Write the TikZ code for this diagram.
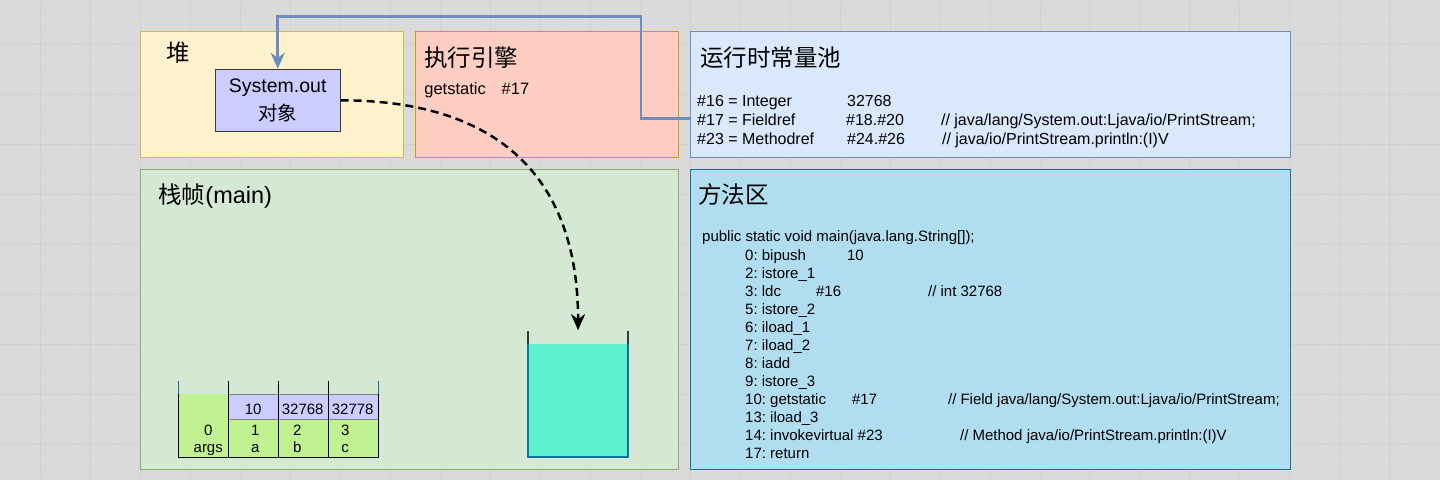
\documentclass[tikz,border=0pt]{standalone}
\usepackage{fontspec}
\setmainfont{Liberation Sans}
\newfontfamily\cjk{Noto Sans CJK SC}
\usetikzlibrary{arrows.meta}
\frenchspacing
\definecolor{grid_bg}{RGB}{218, 218, 218}
\definecolor{grid_minor}{RGB}{216, 216, 216}
\definecolor{grid_major}{RGB}{209, 209, 209}
\definecolor{heap_fill}{RGB}{255, 242, 204}
\definecolor{heap_line}{RGB}{214, 182, 86}
\definecolor{eng_fill}{RGB}{255, 206, 194}
\definecolor{eng_line}{RGB}{215, 155, 0}
\definecolor{pool_fill}{RGB}{218, 232, 252}
\definecolor{pool_line}{RGB}{108, 142, 191}
\definecolor{frame_fill}{RGB}{213, 232, 212}
\definecolor{frame_line}{RGB}{130, 179, 102}
\definecolor{meth_fill}{RGB}{177, 221, 240}
\definecolor{meth_line}{RGB}{16, 115, 158}
\definecolor{obj_fill}{RGB}{204, 204, 255}
\definecolor{obj_line}{RGB}{54, 57, 61}
\definecolor{slot_fill}{RGB}{192, 242, 146}
\definecolor{bucket_fill}{RGB}{94, 240, 208}
\tikzstyle{area}=[rectangle,anchor=north west,inner sep=0pt,line width=1pt]
\tikzstyle{obj}=[rectangle,fill=obj_fill,draw=obj_line,line width=1pt,
  minimum width=125pt,minimum height=62pt,inner sep=0pt,align=center,
  font=\fontsize{19.5}{28}\selectfont]
\tikzstyle{title}=[anchor=base west,inner sep=0pt,font=\fontsize{23.5}{28}\selectfont]
\tikzstyle{pool_txt}=[anchor=base west,inner sep=0pt,font=\fontsize{16}{19}\selectfont]
\tikzstyle{code_txt}=[anchor=base west,inner sep=0pt,font=\fontsize{15}{18}\selectfont]
\tikzstyle{slot_txt}=[anchor=base,inner sep=0pt,font=\fontsize{15}{18}\selectfont]
\tikzstyle{ref_line}=[draw=pool_line,line width=2.8pt,
  -{Stealth[length=16pt,width=14pt,inset=5pt]}]
\tikzstyle{ref_dash}=[draw=black,line width=2.5pt,dash pattern=on 8pt off 5pt,
  -{Stealth[length=16pt,width=14pt,inset=5pt]}]

\begin{document}
\begin{tikzpicture}[x=1pt,y=-1pt]
    % background grid
    \fill[grid_bg] (0,0) rectangle (1440,480);
    \foreach \gx in {0,10,...,1440} \draw[grid_minor,line width=0.5pt] (\gx,0) -- (\gx,480);
    \foreach \gy in {4,14,...,474} \draw[grid_minor,line width=0.5pt] (0,\gy) -- (1440,\gy);
    \foreach \gx in {40,90,...,1390} \draw[grid_major,line width=0.7pt] (\gx,0) -- (\gx,480);
    \foreach \gy in {44,94,...,444} \draw[grid_major,line width=0.7pt] (0,\gy) -- (1440,\gy);
    \useasboundingbox (0,0) rectangle (1440,480);

    % areas
    \node [style=area,fill=heap_fill,draw=heap_line,minimum width=263pt,minimum height=126pt] (heap) at (140,31) {};
    \node [style=area,fill=eng_fill,draw=eng_line,minimum width=263pt,minimum height=126pt] (engine) at (415,31) {};
    \node [style=area,fill=pool_fill,draw=pool_line,minimum width=600pt,minimum height=126pt] (pool) at (690,31) {};
    \node [style=area,fill=frame_fill,draw=frame_line,minimum width=538pt,minimum height=300pt] (frame) at (140,169) {};
    \node [style=area,fill=meth_fill,draw=meth_line,minimum width=600pt,minimum height=300pt] (method) at (690,169) {};

    \node [style=title] (heap_t) at (166,61) {\cjk 堆};
    \node [style=title] (engine_t) at (424,66) {\cjk 执行引擎};
    \node [style=title] (pool_t) at (700,66) {\cjk 运行时常量池};
    \node [style=title] (frame_t) at (158,203) {{\cjk 栈帧}(main)};
    \node [style=title] (method_t) at (698,203) {\cjk 方法区};

    \node [style=obj] (sysout) at (277.5,100) {System.out\\{\cjk 对象}};
    \node [style=pool_txt,font=\fontsize{16.5}{19}\selectfont] (instr) at (424,94) {getstatic\hspace{16pt}\#17};

    % constant pool
    \node [style=pool_txt] (c16) at (697,106) {\#16 = Integer};
    \node [style=pool_txt] (c16v) at (847,106) {32768};
    \node [style=pool_txt] (c17) at (697,125.5) {\#17 = Fieldref};
    \node [style=pool_txt] (c17v) at (846,125.5) {\#18.\#20};
    \node [style=pool_txt] (c17c) at (941,125.5) {// java/lang/System.out:Ljava/io/PrintStream;};
    \node [style=pool_txt] (c23) at (697,144.5) {\#23 = Methodref};
    \node [style=pool_txt] (c23v) at (847,144.5) {\#24.\#26};
    \node [style=pool_txt] (c23c) at (942,144.5) {// java/io/PrintStream.println:(I)V};

    % method area
    \node [style=code_txt] (sig) at (702,241.5) {public static void main(java.lang.String[]);};
    \node [style=code_txt] (m0) at (745,260) {0: bipush};
    \node [style=code_txt] (m0v) at (847,260) {10};
    \node [style=code_txt] (m2) at (745,278) {2: istore\_1};
    \node [style=code_txt] (m3) at (745,296) {3: ldc};
    \node [style=code_txt] (m3v) at (816,296) {\#16};
    \node [style=code_txt] (m3c) at (928,296) {// int 32768};
    \node [style=code_txt] (m5) at (745,314) {5: istore\_2};
    \node [style=code_txt] (m6) at (745,332) {6: iload\_1};
    \node [style=code_txt] (m7) at (745,350) {7: iload\_2};
    \node [style=code_txt] (m8) at (745,368) {8: iadd};
    \node [style=code_txt] (m9) at (745,386) {9: istore\_3};
    \node [style=code_txt] (m10) at (745,404) {10: getstatic};
    \node [style=code_txt] (m10v) at (852,404) {\#17};
    \node [style=code_txt] (m10c) at (948,404) {// Field java/lang/System.out:Ljava/io/PrintStream;};
    \node [style=code_txt] (m13) at (745,422) {13: iload\_3};
    \node [style=code_txt] (m14) at (745,440) {14: invokevirtual \#23};
    \node [style=code_txt] (m14c) at (960,440) {// Method java/io/PrintStream.println:(I)V};
    \node [style=code_txt] (m17) at (745,458) {17: return};

    % local variable table
    \fill[slot_fill] (178,394) rectangle (228,457);
    \fill[slot_fill] (228,419) rectangle (378,457);
    \filldraw[fill=obj_fill,draw=gray,line width=1pt] (228,394) rectangle (378,419);
    \draw[meth_line,line width=1.2pt] (178,381) -- (178,394);
    \draw[meth_line,line width=1.2pt] (378,381) -- (378,394);
    \draw[black,line width=1.2pt] (178,394) -- (178,457) -- (378,457) -- (378,394);
    \draw[black,line width=1.2pt] (228,381) -- (228,457);
    \draw[black,line width=1.2pt] (278,381) -- (278,457);
    \draw[black,line width=1.2pt] (328,381) -- (328,457);
    \node [style=slot_txt] (v1) at (253,414.5) {10};
    \node [style=slot_txt] (v2) at (302.5,414.5) {32768};
    \node [style=slot_txt] (v3) at (352.5,414.5) {32778};
    \node [style=slot_txt] (s0) at (208,435.5) {0};
    \node [style=slot_txt] (s0n) at (208,452) {args};
    \node [style=slot_txt] (s1) at (255,435.5) {1};
    \node [style=slot_txt] (s1n) at (255,452) {a};
    \node [style=slot_txt] (s2) at (297,435.5) {2};
    \node [style=slot_txt] (s2n) at (297,452) {b};
    \node [style=slot_txt] (s3) at (345,435.5) {3};
    \node [style=slot_txt] (s3n) at (345,452) {c};

    % operand stack
    \fill[bucket_fill] (528,344) rectangle (628,457);
    \draw[meth_line,line width=1.5pt] (528,344) -- (528,457) -- (628,457) -- (628,344);
    \draw[obj_line,line width=1.2pt] (528,331) -- (528,344);
    \draw[obj_line,line width=1.2pt] (628,331) -- (628,344);
    \coordinate (stack_in) at (578,330);

    % references
    \draw[style=ref_line] ([yshift=-24pt]pool.west) -- ++(-49,0) |- ([yshift=52pt]sysout.north) -- (sysout.north);
    \draw[style=ref_dash] (sysout.east) .. controls +(150,0) and +(0,-160) .. (stack_in);
  \end{tikzpicture}
\end{document}
